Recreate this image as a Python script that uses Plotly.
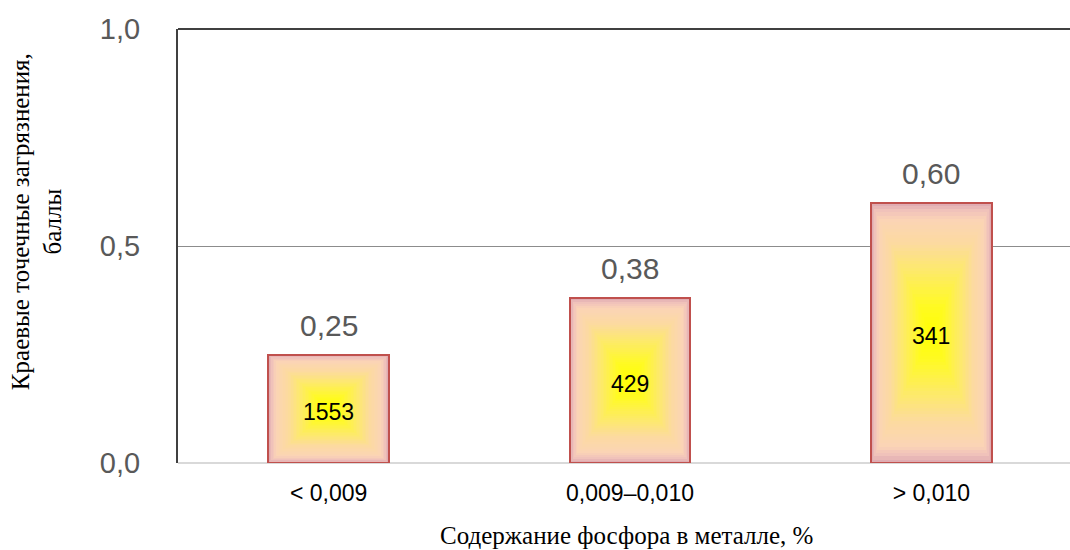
import plotly.graph_objects as go

# Data
categories = ["< 0,009", "0,009–0,010", "> 0,010"]
scores = [0.25, 0.38, 0.60]
score_labels = ["0,25", "0,38", "0,60"]
counts = [1553, 429, 341]
y_ticks = [0.0, 0.5, 1.0]
y_tick_labels = ["0,0", "0,5", "1,0"]

BAR_WIDTH = 0.4
LEVELS = 40

# gradient from the bar edge (0) to its centre (1)
stops = [
    (0.00, (224, 172, 178)),
    (0.05, (240, 194, 186)),
    (0.12, (251, 212, 182)),
    (0.30, (252, 218, 160)),
    (0.52, (253, 234, 105)),
    (0.78, (255, 250, 35)),
    (1.00, (255, 255, 0)),
]


def grad_color(t):
    for (t0, c0), (t1, c1) in zip(stops[:-1], stops[1:]):
        if t <= t1:
            f = (t - t0) / (t1 - t0) if t1 > t0 else 0
            r, g, b = (round(a + (bb - a) * f) for a, bb in zip(c0, c1))
            return f"rgb({r},{g},{b})"
    return "rgb(255,255,0)"


fig = go.Figure()

# nested bars shrinking towards the centre give a rectangular gradient fill
for k in range(LEVELS):
    t = k / LEVELS
    fig.add_trace(go.Bar(
        x=categories,
        y=[v * (1 - t) for v in scores],
        base=[v * t / 2 for v in scores],
        width=[BAR_WIDTH * (1 - t)] * len(categories),
        marker=dict(color=grad_color(t), line=dict(width=0)),
        hoverinfo="skip",
        showlegend=False,
    ))

# outline of each bar
fig.add_trace(go.Bar(
    x=categories,
    y=scores,
    width=[BAR_WIDTH] * len(categories),
    marker=dict(color="rgba(0,0,0,0)", line=dict(color="#c0504d", width=2)),
    hoverinfo="skip",
    showlegend=False,
))

# sample counts in the middle of the bars, scores above them
for cat, v, lab, n in zip(categories, scores, score_labels, counts):
    fig.add_annotation(
        x=cat, y=v / 2, text=str(n), showarrow=False,
        xref="x", yref="y", yanchor="middle", yshift=-3,
        font=dict(family="Liberation Sans, Arial", size=23, color="#000000"),
    )
    fig.add_annotation(
        x=cat, y=v, text=lab, showarrow=False,
        xref="x", yref="y", yanchor="bottom", yshift=11,
        font=dict(family="Liberation Sans, Arial", size=30, color="#595959"),
    )

# axis titles
fig.add_annotation(
    text="Краевые точечные загрязнения,<br>баллы",
    xref="paper", yref="paper", x=0, y=0.555,
    xanchor="center", yanchor="middle", xshift=-141,
    textangle=-90, showarrow=False,
    font=dict(family="Liberation Serif, Times New Roman", size=25, color="#000000"),
)
fig.add_annotation(
    text="Содержание фосфора в металле, %",
    xref="paper", yref="paper", x=0.503, y=0,
    xanchor="center", yanchor="middle", yshift=-72,
    showarrow=False,
    font=dict(family="Liberation Serif, Times New Roman", size=25, color="#000000"),
)

# top border of the plot area
fig.add_shape(type="line", xref="paper", yref="paper", x0=0, x1=1, y0=1, y1=1,
              line=dict(color="#404040", width=2))

fig.update_layout(
    width=1070, height=550,
    margin=dict(l=178, r=0, t=29, b=87),
    paper_bgcolor="white", plot_bgcolor="white",
    barmode="overlay", bargap=0,
    xaxis=dict(
        type="category", range=[-0.5, 2.46],
        showgrid=False, showline=False, zeroline=False,
        ticks="", ticklabelstandoff=14,
        tickfont=dict(family="Liberation Sans, Arial", size=23, color="#000000"),
    ),
    yaxis=dict(
        range=[0, 1.0], tickvals=y_ticks, ticktext=y_tick_labels,
        showgrid=True, gridcolor="#8c8c8c", gridwidth=1,
        zeroline=True, zerolinecolor="#d9d9d9", zerolinewidth=2,
        showline=True, linecolor="#404040", linewidth=2,
        ticks="", ticklabelstandoff=30,
        tickfont=dict(family="Liberation Sans, Arial", size=29, color="#595959"),
    ),
)

fig.write_html("out.html")
